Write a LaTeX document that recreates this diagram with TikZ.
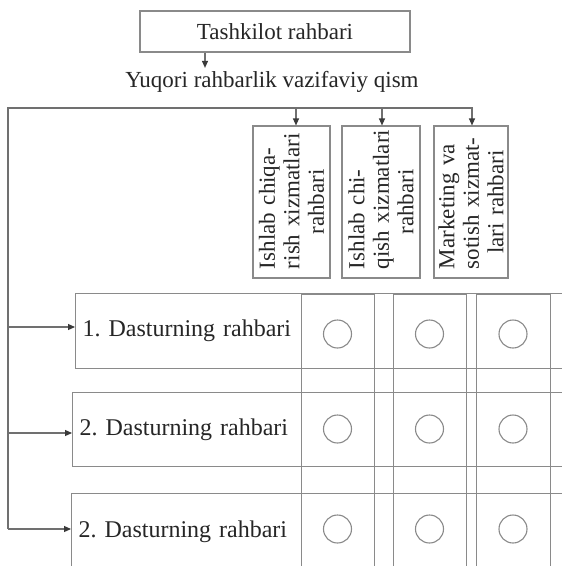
\documentclass[tikz,border=0pt]{standalone}
\usepackage{fontspec}
\setmainfont{Liberation Serif}
\usetikzlibrary{arrows.meta,calc}
\definecolor{bordergray}{HTML}{8A8A8A}
\definecolor{conngray}{HTML}{707070}
\definecolor{tipcol}{HTML}{3A3A3A}
\definecolor{textcol}{HTML}{262626}
\frenchspacing
\begin{document}
\begin{tikzpicture}[x=1pt,y=-1pt,
  txt/.style={text=textcol, font=\fontsize{23}{27}\selectfont},
  box/.style={draw=bordergray, line width=1.1pt},
  conn/.style={draw=conngray, line width=1.1pt},
  arr/.style={conn, -{Triangle[length=7pt,width=6pt,color=tipcol]}},
  hdr/.style={box, txt, rotate=90, minimum width=152, minimum height=77,
    inner sep=2pt, text width=134pt, align=center,
    font=\fontsize{23}{24.5}\selectfont},
  rowbox/.style={box, text=textcol, font=\fontsize{24}{28}\selectfont,
    anchor=north west, inner xsep=7pt, text width=506pt, align=left},
  colbox/.style={box, anchor=north west, minimum height=300},
  circ/.style={circle, draw=bordergray, line width=1.1pt, minimum size=28, inner sep=0pt}
]
\useasboundingbox (0,0) rectangle (562,566);
\clip (0,0) rectangle (562,566);
\fill[white] (0,0) rectangle (562,566);

% top
\node[box, txt, minimum width=270, minimum height=41] (top) at (275,31.5) {Tashkilot rahbari};
\node[txt] (yq) at (272,82) {Yuqori rahbarlik vazifaviy qism};
\coordinate (p0) at (205,0);
\draw[arr] (top.south -| p0) -- (p0 |- yq.north);

% header boxes
\node[hdr] (h1) at (291.5,202) {\makebox[\linewidth][s]{Ishlab chiqa-}\\\makebox[\linewidth][s]{rish xizmatlari}\\rahbari};
\node[hdr, minimum height=78] (h2) at (381,202) {\makebox[\linewidth][l]{Ishlab chi-}\\\makebox[\linewidth][s]{qish xizmatlari}\\rahbari};
\node[hdr, minimum height=74] (h3) at (471,202) {\makebox[\linewidth][s]{Marketing va}\\\makebox[\linewidth][s]{sotish xizmat-}\\lari rahbari};

% matrix columns
\node[colbox, minimum width=73] (m1) at (301,294) {};
\node[colbox, minimum width=73] (m2) at (393,294) {};
\node[colbox, minimum width=74] (m3) at (476,294) {};

% rows
\node[rowbox, minimum height=75] (r1) at (75,293) {1. Dasturning rahbari};
\node[rowbox, minimum height=74] (r2) at (72,392) {2. Dasturning rahbari};
\node[rowbox, minimum height=76] (r3) at (71,493) {2. Dasturning rahbari};

% circles
\foreach \r/\y in {1/334,2/429,3/529}{
  \node[circ] (c\r1) at (337.5,\y) {};
  \node[circ] (c\r2) at (429.5,\y) {};
  \node[circ] (c\r3) at (513,\y) {};
}

% connectors
\coordinate (tl) at (8,108);
\coordinate (tr) at (473,108);
\coordinate (a1) at (296,108);
\coordinate (a2) at (382,108);
\coordinate (a3) at (472,108);
\coordinate (b1) at (8,327);
\coordinate (b2) at (8,433);
\coordinate (b3) at (8,529);
\draw[conn] (tr) -- (tl) -- (b3);
\draw[arr] (a1) -- (a1 |- h1.east);
\draw[arr] (a2) -- (a2 |- h2.east);
\draw[arr] (a3) -- (a3 |- h3.east);
\draw[arr] (b1) -- (b1 -| r1.west);
\draw[arr] (b2) -- (b2 -| r2.west);
\draw[arr] (b3) -- (b3 -| r3.west);
\end{tikzpicture}
\end{document}
